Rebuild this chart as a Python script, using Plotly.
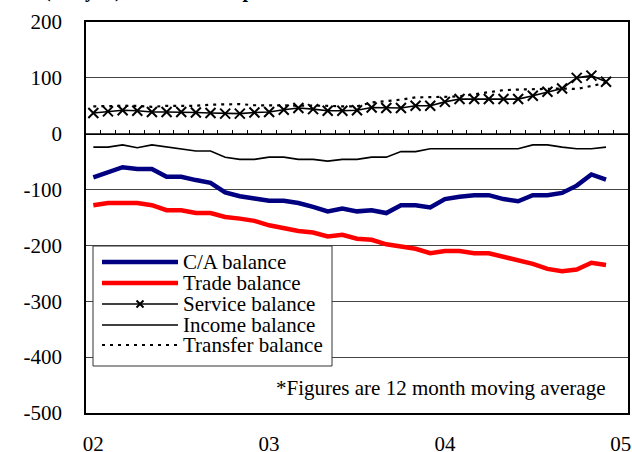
import plotly.graph_objects as go

# ---------------- data (monthly, Jan 2002 .. Dec 2004; 12-month moving averages) -------------
month_index = list(range(36))
x_tick_pos = [0, 12, 24, 36]
x_tick_labels = ["02", "03", "04", "05"]
y_tick_vals = [200, 100, 0, -100, -200, -300, -400, -500]
y_tick_labels = ["200", "100", "0", "-100", "-200", "-300", "-400", "-500"]

series_names = ["C/A balance", "Trade balance", "Service balance", "Income balance", "Transfer balance"]

ca_balance = [-78, -70, -60, -63, -63, -77, -77, -83, -88, -105, -112, -116,
              -120, -120, -124, -131, -139, -134, -139, -137, -142, -128, -128, -132,
              -117, -113, -110, -110, -117, -121, -110, -110, -106, -93, -73, -82]
trade_balance = [-128, -124, -124, -124, -128, -137, -137, -142, -142, -149, -152, -156,
                 -164, -170, -174, -177, -184, -181, -188, -190, -198, -202, -206, -214,
                 -210, -210, -214, -214, -220, -225, -233, -242, -246, -243, -231, -235]
service_balance = [37, 40, 42, 41, 39, 39, 39, 38, 37, 36, 36, 38,
                   39, 43, 46, 44, 41, 41, 42, 47, 46, 46, 50, 50,
                   57, 62, 62, 62, 62, 62, 68, 75, 81, 100, 104, 93]
income_balance = [-24, -24, -20, -25, -20, -24, -27, -31, -31, -42, -46, -46,
                  -42, -42, -46, -46, -49, -46, -46, -42, -42, -32, -32, -27,
                  -27, -27, -27, -27, -27, -27, -20, -20, -24, -27, -27, -24]
transfer_balance = [49, 50, 50, 50, 48, 50, 50, 50, 52, 53, 53, 51,
                    51, 50, 51, 51, 50, 49, 49, 56, 58, 61, 65, 65,
                    66, 67, 71, 74, 78, 79, 80, 81, 81, 80, 86, 91]

note_text = "*Figures are 12 month moving average"
title_text = "(Bil. yen) Increased surpluses in service and transfer balance"

# ---------------- styling -------------
FONT = "Liberation Serif"
FS = 21
W, H = 632, 452
L, R, T, B = 86, 4, 22, 39
PW, PH = W - L - R, H - T - B


def px_x(px):
    return (px - L) / PW


def px_y(py):
    return (H - B - py) / PH


styles = [
    dict(color="#000080", width=4.5, dash="solid", marker=None),
    dict(color="#FF0000", width=4.5, dash="solid", marker=None),
    dict(color="#000000", width=1.6, dash="solid", marker="x-thin"),
    dict(color="#000000", width=1.6, dash="solid", marker=None),
    dict(color="#000000", width=2.2, dash="3px,5px", marker=None),
]
values = [ca_balance, trade_balance, service_balance, income_balance, transfer_balance]

fig = go.Figure()

order = [4, 3, 1, 0, 2]
for k in order:
    st = styles[k]
    mode = "lines+markers" if st["marker"] else "lines"
    kw = {}
    if st["marker"]:
        kw["marker"] = dict(symbol=st["marker"], size=10, line=dict(color="black", width=2))
    fig.add_trace(go.Scatter(
        x=month_index, y=values[k], name=series_names[k], mode=mode,
        line=dict(color=st["color"], width=st["width"], dash=st["dash"]),
        showlegend=False, hoverinfo="skip", **kw))

# ---------------- custom legend -------------
leg_left, leg_right, leg_top, leg_bot = 93, 332, 246, 366
fig.add_shape(type="rect", xref="paper", yref="paper",
              x0=px_x(leg_left), x1=px_x(leg_right), y0=px_y(leg_bot), y1=px_y(leg_top),
              line=dict(color="#333333", width=1), fillcolor="white", layer="above")
row_y = [262, 283, 304, 325, 345]
for k in range(5):
    st = styles[k]
    yy = px_y(row_y[k])
    fig.add_shape(type="line", xref="paper", yref="paper",
                  x0=px_x(102), x1=px_x(178), y0=yy, y1=yy,
                  line=dict(color=st["color"], width=st["width"], dash=st["dash"]),
                  layer="above")
    fig.add_annotation(xref="paper", yref="paper", x=px_x(181), y=yy,
                       text=series_names[k], showarrow=False, xanchor="left",
                       yanchor="middle", font=dict(family=FONT, size=FS, color="black"))
    if st["marker"]:
        d = 3.5
        cx, cy = 140, row_y[k]
        for (a, b, c, e) in [(cx - d, cy - d, cx + d, cy + d), (cx - d, cy + d, cx + d, cy - d)]:
            fig.add_shape(type="line", xref="paper", yref="paper",
                          x0=px_x(a), y0=px_y(b), x1=px_x(c), y1=px_y(e),
                          line=dict(color="black", width=2), layer="above")

fig.add_annotation(xref="paper", yref="paper", x=px_x(608), y=px_y(388),
                   text=note_text, showarrow=False, xanchor="right", yanchor="middle",
                   font=dict(family=FONT, size=FS, color="black"))

fig.add_annotation(xref="paper", yref="paper", x=px_x(303), y=px_y(3),
                   text="<b>" + title_text + "</b>", showarrow=False,
                   xanchor="center", yanchor="bottom", borderpad=0,
                   font=dict(family=FONT, size=20, color="black"))

fig.update_layout(
    template="none",
    width=W, height=H,
    margin=dict(l=L, r=R, t=T, b=B, pad=0, autoexpand=False),
    paper_bgcolor="white", plot_bgcolor="white",
    showlegend=False,
    xaxis=dict(range=[-0.5, 36.5], tickmode="array", tickvals=x_tick_pos,
               ticktext=x_tick_labels, showgrid=False, zeroline=False, automargin=False,
               showline=True, linecolor="black", linewidth=1.5, mirror=True,
               ticks="", ticklabelstandoff=11,
               tickfont=dict(family=FONT, size=FS, color="black")),
    xaxis2=dict(range=[-0.5, 36.5], overlaying="x", anchor="free", position=5 / 7,
                tickmode="array", tickvals=[i - 0.5 for i in range(38)],
                ticks="inside", ticklen=4, tickcolor="black", tickwidth=1,
                showticklabels=False, showgrid=False, zeroline=False, automargin=False,
                showline=True, linecolor="black", linewidth=1.2),
    yaxis=dict(range=[-500, 200], tickmode="array", tickvals=y_tick_vals,
               ticktext=y_tick_labels, automargin=False,
               showgrid=True, gridcolor="#444444", gridwidth=1, zeroline=False,
               showline=True, linecolor="black", linewidth=1.5, mirror=True,
               ticks="", ticklabelstandoff=18,
               tickfont=dict(family=FONT, size=FS, color="black")),
)
fig.add_trace(go.Scatter(x=[None], y=[None], xaxis="x2", showlegend=False, hoverinfo="skip"))

fig.write_html("out.html", config={"displayModeBar": False},
               post_script="document.body.style.margin='0px';document.body.style.padding='0px';")
